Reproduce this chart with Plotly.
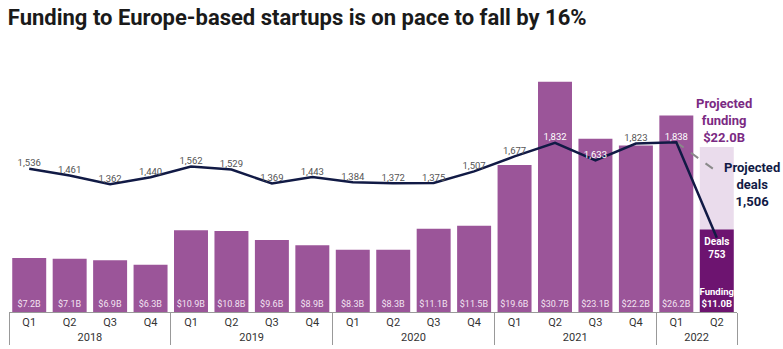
import plotly.graph_objects as go

years = ["2018"]*4 + ["2019"]*4 + ["2020"]*4 + ["2021"]*4 + ["2022"]*2
quarters = ["Q1", "Q2", "Q3", "Q4"]*4 + ["Q1", "Q2"]
funding = [7.2, 7.1, 6.9, 6.3, 10.9, 10.8, 9.6, 8.9, 8.3, 8.3, 11.1, 11.5, 19.6, 30.7, 23.1, 22.2, 26.2]
funding_q2_2022 = 11.0
projected_funding = 22.0
deals = [1536, 1461, 1362, 1440, 1562, 1529, 1369, 1443, 1384, 1372, 1375, 1507, 1677, 1832, 1633, 1823, 1838, 753]
projected_deals = 1506

BAR = "#9b5599"
LIGHT = "#eadcec"
DARK = "#6d1470"
NAVY = "#111a45"
FONT = "Roboto"

fig = go.Figure()

x_hist = [years[:17], quarters[:17]]
x_last = [[years[17]], [quarters[17]]]

fig.add_trace(go.Bar(
    x=x_hist, y=funding, marker=dict(color=BAR, line=dict(width=0)),
    text=[f"${v:.1f}B" for v in funding], textposition="inside",
    insidetextanchor="start", textangle=0, constraintext="none",
    textfont=dict(family=FONT, size=9, color="#f3e3f2"), hoverinfo="skip"))

fig.add_trace(go.Bar(
    x=x_last, y=[projected_funding], marker=dict(color=LIGHT, line=dict(width=0)),
    hoverinfo="skip"))

fig.add_trace(go.Bar(
    x=x_last, y=[funding_q2_2022], marker=dict(color=DARK, line=dict(width=0)),
    text=[f"<b>Funding<br>${funding_q2_2022:.1f}B</b>"], textposition="inside",
    insidetextanchor="start", textangle=0, constraintext="none",
    textfont=dict(family=FONT, size=9.5, color="white"), hoverinfo="skip"))

# dashed projection line
fig.add_trace(go.Scatter(
    x=[[years[16], years[17]], [quarters[16], quarters[17]]],
    y=[deals[16], projected_deals], yaxis="y2", mode="lines",
    line=dict(color="#8a8a8a", width=2, dash="dash"), hoverinfo="skip"))

on_bar = {13, 14, 16}
labels = [f"{d:,}" for d in deals[:-1]] + [f"<b>Deals<br>{deals[-1]}</b>"]
positions = ["top center"]*17 + ["bottom center"]
colors = ["white" if i in on_bar else "#555555" for i in range(17)] + ["white"]
sizes = [9.5]*17 + [10]

fig.add_trace(go.Scatter(
    x=[years, quarters], y=deals, yaxis="y2", mode="lines+text",
    line=dict(color=NAVY, width=2.5),
    text=labels, textposition=positions,
    textfont=dict(family=FONT, size=sizes, color=colors), cliponaxis=False,
    hoverinfo="skip"))

fig.add_annotation(
    x=17, y=projected_funding, xref="x", yref="y",
    text=f"<b>Projected<br>funding<br>${projected_funding:.1f}B</b>",
    showarrow=False, xanchor="center", yanchor="bottom", xshift=7, yshift=0,
    align="center", font=dict(family=FONT, size=13, color="#7b2a83"))

fig.add_annotation(
    x=17, y=projected_deals, xref="x", yref="y2",
    text=f"<b>Projected<br>deals<br>{projected_deals:,}</b>",
    showarrow=False, xanchor="left", yanchor="middle", xshift=5, yshift=-13,
    align="center", font=dict(family=FONT, size=13, color=NAVY))

fig.update_layout(
    width=783, height=349,
    margin=dict(l=9, r=46, t=60, b=37),
    paper_bgcolor="white", plot_bgcolor="white",
    barmode="overlay", bargap=0.16, showlegend=False,
    title=dict(text="<b>Funding to Europe-based startups is on pace to fall by 16%</b>",
               x=0.01, xanchor="left", y=0.95, yanchor="middle",
               font=dict(family=FONT, size=22, color="#1a1a1a")),
    xaxis=dict(type="multicategory", range=[-0.5, 17.5], autorange=False,
               showline=True, linecolor="#999999", linewidth=1,
               showdividers=True, dividercolor="#999999", dividerwidth=1,
               tickfont=dict(family=FONT, size=11, color="#333333"),
               showgrid=False, ticks="", automargin=False),
    yaxis=dict(range=[0, 33.6], visible=False, showgrid=False, automargin=False),
    yaxis2=dict(range=[-91, 2773], overlaying="y", visible=False, showgrid=False,
                automargin=False),
)

fig.write_html("out.html")
